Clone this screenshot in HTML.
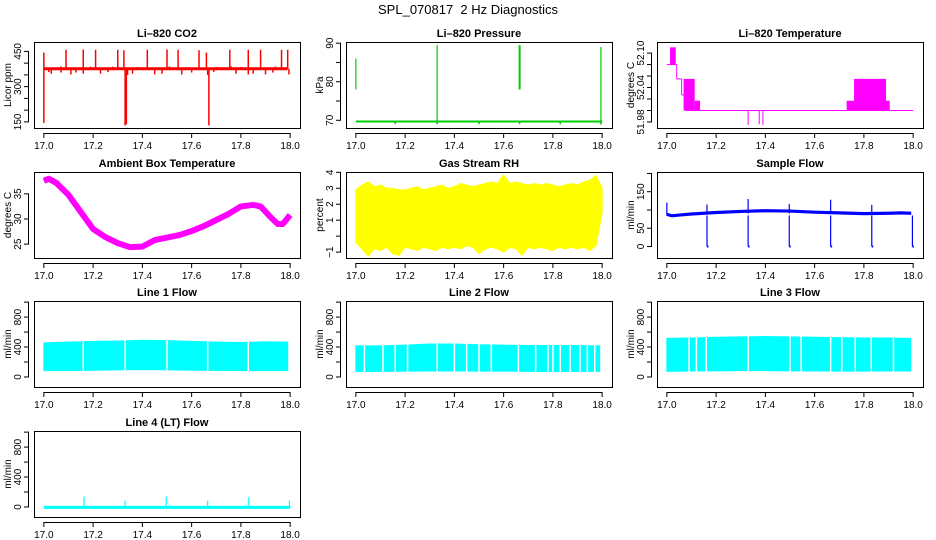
<!DOCTYPE html>
<html><head><meta charset="utf-8"><style>
html,body{margin:0;padding:0;background:#fff;}
svg{display:block;font-family:"Liberation Sans",Arial,sans-serif;}
</style></head><body>
<svg id="chart" width="936" height="540" viewBox="0 0 936 540">
<rect x="0" y="0" width="936" height="540" fill="#fff"/>
<text x="468" y="14" font-size="13" text-anchor="middle">SPL_070817&#160; 2 Hz Diagnostics</text>
</svg>
<script>
// ---- data ----
const xTicks=[17.0,17.2,17.4,17.6,17.8,18.0];
const xTickLabels=['17.0','17.2','17.4','17.6','17.8','18.0'];
// CO2
const co2Base=[376];
const co2SpikeT=[17.0,17.0,17.09,17.16,17.21,17.30,17.325,17.33,17.335,17.42,17.50,17.545,17.63,17.66,17.665,17.67,17.755,17.83,17.88,17.965,17.99];
const co2SpikeV=[445,145,457,458,457,457,455,135,140,457,458,457,455,445,350,135,457,457,457,457,457];
const co2DipT=[17.02,17.03,17.07,17.11,17.13,17.16,17.23,17.26,17.34,17.36,17.45,17.48,17.56,17.6,17.69,17.78,17.83,17.85,17.9,17.93,17.995];
const co2DipV=[362,355,360,352,360,355,355,362,350,355,352,355,352,360,362,355,352,355,352,360,352];
const co2BumpT=[17.07,17.19,17.28,17.38,17.51,17.70,17.76,17.80,17.94];
const co2BumpV=[386,385,385,384,386,384,386,384,386];
// Pressure
const presBase=[69.7];
const presSpikeT=[17.0,17.33,17.665,17.995];
const presSpikeLo=[78,69.2,78,69.2];
const presSpikeHi=[86,89.5,89.5,89];
const presDipT=[17.16,17.33,17.5,17.665,17.83,17.995];
const presDipV=[69.0,69.0,69.0,69.0,69.0,68.9];
// Li-820 temperature
const tempStepT=[17.0,17.04,17.06,17.075,18.0];
const tempStepV=[52.08,52.055,52.027,52.0,52.0];
const tempBlockT0=[17.013,17.068,17.113,17.73,17.76,17.89];
const tempBlockT1=[17.036,17.113,17.135,17.76,17.89,17.905];
const tempBlockLo=[52.08,52.0,52.0,52.0,52.0,52.0];
const tempBlockHi=[52.11,52.055,52.017,52.017,52.055,52.017];
const tempDipT=[17.33,17.375,17.39];
const tempDipV=[51.975,51.976,51.975];
// Ambient
const ambT=[17.0,17.02,17.05,17.1,17.15,17.2,17.25,17.3,17.35,17.4,17.45,17.5,17.55,17.6,17.65,17.7,17.75,17.8,17.85,17.88,17.92,17.95,17.97,18.0];
const ambV=[37.6,38.0,37.2,34.8,31.4,28.0,26.4,25.2,24.4,24.5,25.8,26.3,26.8,27.6,28.6,29.8,31.0,32.5,32.8,32.5,30.4,29.0,29.0,30.8];
// RH
const rhT=[17.0,17.025,17.05,17.075,17.1,17.125,17.15,17.175,17.2,17.225,17.25,17.275,17.3,17.325,17.35,17.375,17.4,17.425,17.45,17.475,17.5,17.525,17.55,17.575,17.6,17.625,17.65,17.675,17.7,17.725,17.75,17.775,17.8,17.825,17.85,17.875,17.9,17.925,17.95,17.975,18.0];
const rhHi=[2.9,3.2,3.4,3.1,3.2,3.0,3.0,2.9,2.9,3.0,3.1,2.9,3.0,3.1,3.2,3.0,3.1,3.3,3.2,3.1,3.2,3.3,3.4,3.3,3.85,3.3,3.4,3.3,3.2,3.3,3.2,3.3,3.2,3.1,3.2,3.3,3.2,3.4,3.5,3.8,3.0];
const rhLo=[-0.4,-0.8,-1.25,-0.8,-0.9,-0.7,-1.1,-1.2,-0.7,-0.8,-0.9,-0.7,-0.8,-0.9,-0.7,-0.8,-0.7,-0.8,-0.6,-0.7,-1.1,-0.8,-0.7,-0.8,-1.0,-0.7,-0.8,-1.2,-0.7,-0.8,-0.7,-0.8,-0.9,-0.7,-0.8,-0.7,-0.8,-0.7,-0.9,-0.6,1.5];
// Sample flow
const sfT=[17.0,17.02,17.05,17.1,17.2,17.3,17.4,17.5,17.6,17.7,17.8,17.9,17.95,17.99];
const sfV=[88,84,86,89,93,96,98,97,94,92,90,91,92,91];
const sfDropT=[17.163,17.33,17.497,17.665,17.832,17.997];
const sfSpikeT=[17.0,17.163,17.33,17.497,17.665,17.832];
const sfSpikeV=[120,115,130,116,128,114];
// Line flows
const flowT=[17.0,17.1,17.2,17.3,17.4,17.5,17.6,17.7,17.8,17.9,17.99];
const line1Hi=[455,465,475,480,490,485,475,465,460,470,465];
const line1Lo=[85,85,90,95,100,95,90,88,85,85,85];
const line1Gaps=[17.16,17.33,17.5,17.665,17.83];
const line2Hi=[415,415,425,440,440,430,425,420,420,420,415];
const line2Lo=[72,75,78,80,80,78,78,75,72,75,75];
const line2Gaps=[17.035,17.11,17.16,17.21,17.33,17.40,17.45,17.5,17.55,17.66,17.73,17.78,17.80,17.83,17.87,17.91,17.94,17.97];
const line3Hi=[515,520,530,535,540,535,530,525,520,520,515];
const line3Lo=[75,80,82,85,85,82,80,78,78,80,80];
const line3Gaps=[17.09,17.12,17.16,17.33,17.5,17.545,17.665,17.71,17.765,17.83,17.92];
const line4Base=[-5];
const line4SpikeT=[17.163,17.33,17.497,17.665,17.832,17.997];
const line4SpikeV=[140,85,140,85,130,85];

// ---- drawing ----
const NS='http://www.w3.org/2000/svg';
const svg=document.getElementById('chart');
const COLS=[34,346,657], ROWS=[42,172,301,431], W=266, H=86;
function mk(parent,tag,attrs,name){
  const el=document.createElementNS(NS,tag);
  for(const k in attrs) el.setAttribute(k,attrs[k]);
  
  
  parent.appendChild(el);
  return el;
}
function panel(c,r,id,title,ylab,ylim,yt,ylabs){
  const L=COLS[c],T=ROWS[r];
  const g=mk(svg,'g',{},id+'-panel');
  const sx=t=>L+(t-16.96)/(1.08)*W;
  const sy=v=>T+H-(v-ylim[0])/(ylim[1]-ylim[0])*H;
  const clipId='clip-'+id;
  const cp=mk(g,'clipPath',{id:clipId},id+'-clip');
  mk(cp,'rect',{x:L,y:T,width:W,height:H},id+'-clip-rect');
  const data=mk(g,'g',{'clip-path':'url(#'+clipId+')'},id+'-series');
  mk(g,'rect',{x:L+0.5,y:T+0.5,width:W,height:H,fill:'none',stroke:'#000','stroke-width':1},id+'-frame');
  mk(g,'text',{x:L+W/2,y:T-5,'font-size':11,'font-weight':'bold','text-anchor':'middle'},id+'-title').textContent=title;
  mk(g,'line',{x1:sx(17),x2:sx(18),y1:T+H+5.5,y2:T+H+5.5,stroke:'#000'},id+'-x-axis-line');
  xTicks.forEach((t,i)=>{
    mk(g,'line',{x1:sx(t),x2:sx(t),y1:T+H+5,y2:T+H+10,stroke:'#000'},id+'-x-tick');
    mk(g,'text',{x:sx(t),y:T+H+21,'font-size':10,'text-anchor':'middle'},id+'-x-tick-label').textContent=xTickLabels[i];
  });
  mk(g,'line',{x1:L-5.5,x2:L-5.5,y1:sy(yt[0]),y2:sy(yt[yt.length-1]),stroke:'#000'},id+'-y-axis-line');
  yt.forEach((v,i)=>{
    mk(g,'line',{x1:L-10,x2:L-5,y1:sy(v),y2:sy(v),stroke:'#000'},id+'-y-tick');
    if(ylabs[i]!==''){
      const tx=L-13,ty=sy(v);
      mk(g,'text',{x:tx,y:ty,'font-size':10,'text-anchor':'middle',transform:`rotate(-90 ${tx} ${ty})`},id+'-y-tick-label').textContent=ylabs[i];
    }
  });
  const ax=L-23,ay=T+H/2;
  mk(g,'text',{x:ax,y:ay,'font-size':10,'text-anchor':'middle',transform:`rotate(-90 ${ax} ${ay})`},id+'-y-axis-title').textContent=ylab;
  return {sx,sy,g:data,id};
}
function seg(p,x1,y1,x2,y2,col,w,name){
  mk(p.g,'line',{x1:p.sx(x1),y1:p.sy(y1),x2:p.sx(x2),y2:p.sy(y2),stroke:col,'stroke-width':w},name);
}
function bandPoly(p,T,hi,lo,col,name){
  let pts=T.map((t,i)=>p.sx(t)+','+p.sy(hi[i]));
  for(let i=T.length-1;i>=0;i--) pts.push(p.sx(T[i])+','+p.sy(lo[i]));
  mk(p.g,'polygon',{points:pts.join(' '),fill:col,stroke:col,'stroke-width':1},name);
}

let p=panel(0,0,'co2','Li\u2013820 CO2','Licor ppm',[124,490],[150,200,250,300,350,400,450],['150','','','300','','','450']);
co2DipT.forEach((t,i)=>seg(p,t,co2Base[0],t,co2DipV[i],'#f00',1.5,'co2-dip'));
co2BumpT.forEach((t,i)=>seg(p,t,co2Base[0],t,co2BumpV[i],'#f00',1.5,'co2-bump'));
seg(p,17.0,co2Base[0],17.99,co2Base[0],'#f00',3,'co2-baseline');
co2SpikeT.forEach((t,i)=>seg(p,t,co2Base[0],t,co2SpikeV[i],'#f00',1.5,'co2-spike'));

p=panel(1,0,'pressure','Li\u2013820 Pressure','kPa',[68,90.3],[70,75,80,85,90],['70','','80','','90']);
seg(p,17.0,presBase[0],18.0,presBase[0],'#0c0',2,'pressure-baseline');
presDipT.forEach((t,i)=>seg(p,t,presBase[0],t,presDipV[i],'#0c0',1.5,'pressure-dip'));
presSpikeT.forEach((t,i)=>seg(p,t,presSpikeLo[i],t,presSpikeHi[i],'#0c0',i==2?2:1.2,'pressure-spike'));

p=panel(2,0,'li820-temp','Li\u2013820 Temperature','degrees C',[51.9695,52.1193],[51.98,52.00,52.02,52.04,52.06,52.08,52.10],['51.98','','','52.04','','','52.10']);
for(let i=0;i<tempStepT.length-1;i++){
  seg(p,tempStepT[i],tempStepV[i],tempStepT[i+1],tempStepV[i],'#f0f',1,'temp-step-h');
  seg(p,tempStepT[i+1],tempStepV[i],tempStepT[i+1],tempStepV[i+1],'#f0f',1,'temp-step-v');
}
tempBlockT0.forEach((t,i)=>{
  mk(p.g,'rect',{x:p.sx(t),y:p.sy(tempBlockHi[i]),width:p.sx(tempBlockT1[i])-p.sx(t),height:p.sy(tempBlockLo[i])-p.sy(tempBlockHi[i]),fill:'#f0f'},'temp-block');
});
tempDipT.forEach((t,i)=>seg(p,t,52.0,t,tempDipV[i],'#f0f',1,'temp-dip'));

p=panel(0,1,'ambient','Ambient Box Temperature','degrees C',[22.24,39.35],[25,30,35],['25','30','35']);
mk(p.g,'polyline',{points:ambT.map((t,i)=>p.sx(t)+','+p.sy(ambV[i])).join(' '),fill:'none',stroke:'#f0f','stroke-width':6,'stroke-linejoin':'round'},'ambient-line');

p=panel(1,1,'rh','Gas Stream RH','percent',[-1.37,4.02],[-1,0,1,2,3,4],['\u22121','','1','2','3','4']);
bandPoly(p,rhT,rhHi,rhLo,'#ff0','rh-band');

p=panel(2,1,'sample-flow','Sample Flow','ml/min',[-31.4,203.9],[0,50,100,150,200],['0','50','','150','']);
bandPoly(p,sfT,sfV.map(v=>v+3),sfV.map(v=>v-3),'#00f','sample-flow-band');
sfDropT.forEach(t=>seg(p,t,85,t,0,'#00f',1.2,'sample-flow-drop'));
sfDropT.forEach(t=>seg(p,t,0,t+0.006,0,'#00f',2,'sample-flow-drop-foot'));
sfSpikeT.forEach((t,i)=>seg(p,t,90,t,sfSpikeV[i],'#00f',1.2,'sample-flow-spike'));

const flowTicks=[0,200,400,600,800,1000], flowLabs=['0','','400','','800',''];
function flowPanel(c,r,id,title,hi,lo,gaps){
  const q=panel(c,r,id,title,'ml/min',[-134,1015],flowTicks,flowLabs);
  bandPoly(q,flowT,hi,lo,'#0ff',id+'-band');
  gaps.forEach(t=>seg(q,t,0,t,700,'#fff',1.5,id+'-gap'));
  return q;
}
flowPanel(0,2,'line1-flow','Line 1 Flow',line1Hi,line1Lo,line1Gaps);
flowPanel(1,2,'line2-flow','Line 2 Flow',line2Hi,line2Lo,line2Gaps);
flowPanel(2,2,'line3-flow','Line 3 Flow',line3Hi,line3Lo,line3Gaps);
p=panel(0,3,'line4-flow','Line 4 (LT) Flow','ml/min',[-134,1015],flowTicks,flowLabs);
seg(p,17.0,line4Base[0],18.0,line4Base[0],'#0ff',3,'line4-baseline');
line4SpikeT.forEach((t,i)=>seg(p,t,line4Base[0],t,line4SpikeV[i],'#0ff',1.2,'line4-spike'));
</script>
</body></html>
